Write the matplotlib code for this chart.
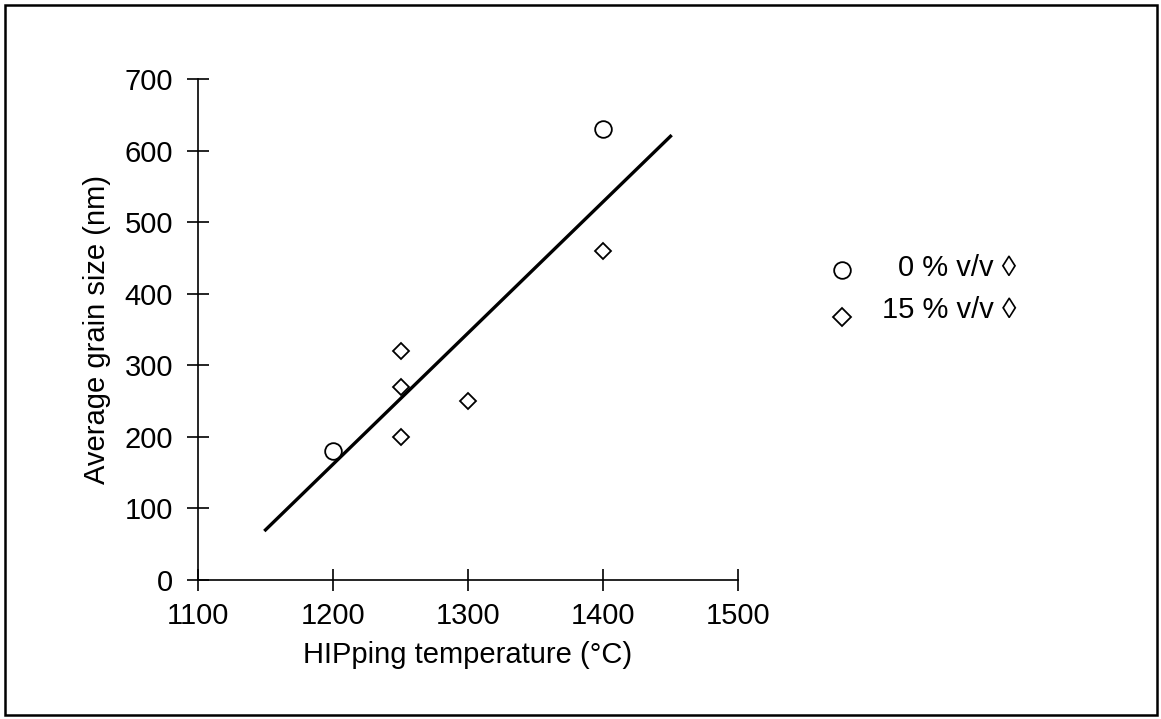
import matplotlib
matplotlib.use("Agg")
import matplotlib.pyplot as plt
from matplotlib.patches import Rectangle

plt.rcParams['font.family'] = ['Liberation Sans', 'DejaVu Sans']

# Data
temp_0 = [1200, 1400]
size_0 = [180, 630]
temp_15 = [1250, 1250, 1250, 1300, 1400]
size_15 = [320, 270, 200, 250, 460]
fit_x = [1150, 1450]
fit_y = [70, 620]
xticks = [1100, 1200, 1300, 1400, 1500]
yticks = [0, 100, 200, 300, 400, 500, 600, 700]
legend_labels = ["0 % v/v \u25CA", "15 % v/v \u25CA"]

W, H = 1161, 719
FS = 21
fig = plt.figure(figsize=(W / 100, H / 100), dpi=100)

# outer frame
fig.patches.append(Rectangle((5 / W, 4 / H), 1152 / W, 710 / H, transform=fig.transFigure,
                             fill=False, edgecolor='black', linewidth=1.8))

ax = fig.add_axes([198 / W, 1 - 580 / H, (738 - 198) / W, (580 - 79) / H])
ax.plot(fit_x, fit_y, color='black', linewidth=2.4, zorder=2)
ax.plot(temp_0, size_0, linestyle='none', marker='o', markersize=12,
        markerfacecolor='none', markeredgecolor='black', markeredgewidth=1.3, zorder=3)
ax.plot(temp_15, size_15, linestyle='none', marker='D', markersize=8.3,
        markerfacecolor='none', markeredgecolor='black', markeredgewidth=1.3, zorder=3)

ax.set_xlim(1100, 1500)
ax.set_ylim(0, 700)
ax.set_xticks(xticks)
ax.set_yticks(yticks)
for s in ['top', 'right']:
    ax.spines[s].set_visible(False)
for s in ['left', 'bottom']:
    ax.spines[s].set_linewidth(1.2)
ax.tick_params(direction='inout', length=16, width=1.2, labelsize=FS)
ax.tick_params(axis='x', pad=8)
ax.tick_params(axis='y', pad=10)
ax.set_xlabel("HIPping temperature (\u00B0C)", fontsize=FS, labelpad=8)
ax.set_ylabel("Average grain size (nm)", fontsize=FS, labelpad=10)

# legend (manual)
fig.lines.append(plt.Line2D([842 / W], [1 - 270 / H], transform=fig.transFigure, marker='o',
                            markersize=12, markerfacecolor='none', markeredgecolor='black',
                            markeredgewidth=1.3, linestyle='none'))
fig.lines.append(plt.Line2D([842 / W], [1 - 317 / H], transform=fig.transFigure, marker='D',
                            markersize=8.8, markerfacecolor='none', markeredgecolor='black',
                            markeredgewidth=1.3, linestyle='none'))
fig.text(1016 / W, 1 - 268 / H, legend_labels[0], ha='right', va='center', fontsize=FS)
fig.text(1016 / W, 1 - 310 / H, legend_labels[1], ha='right', va='center', fontsize=FS)

fig.savefig("out.png", dpi=100)
